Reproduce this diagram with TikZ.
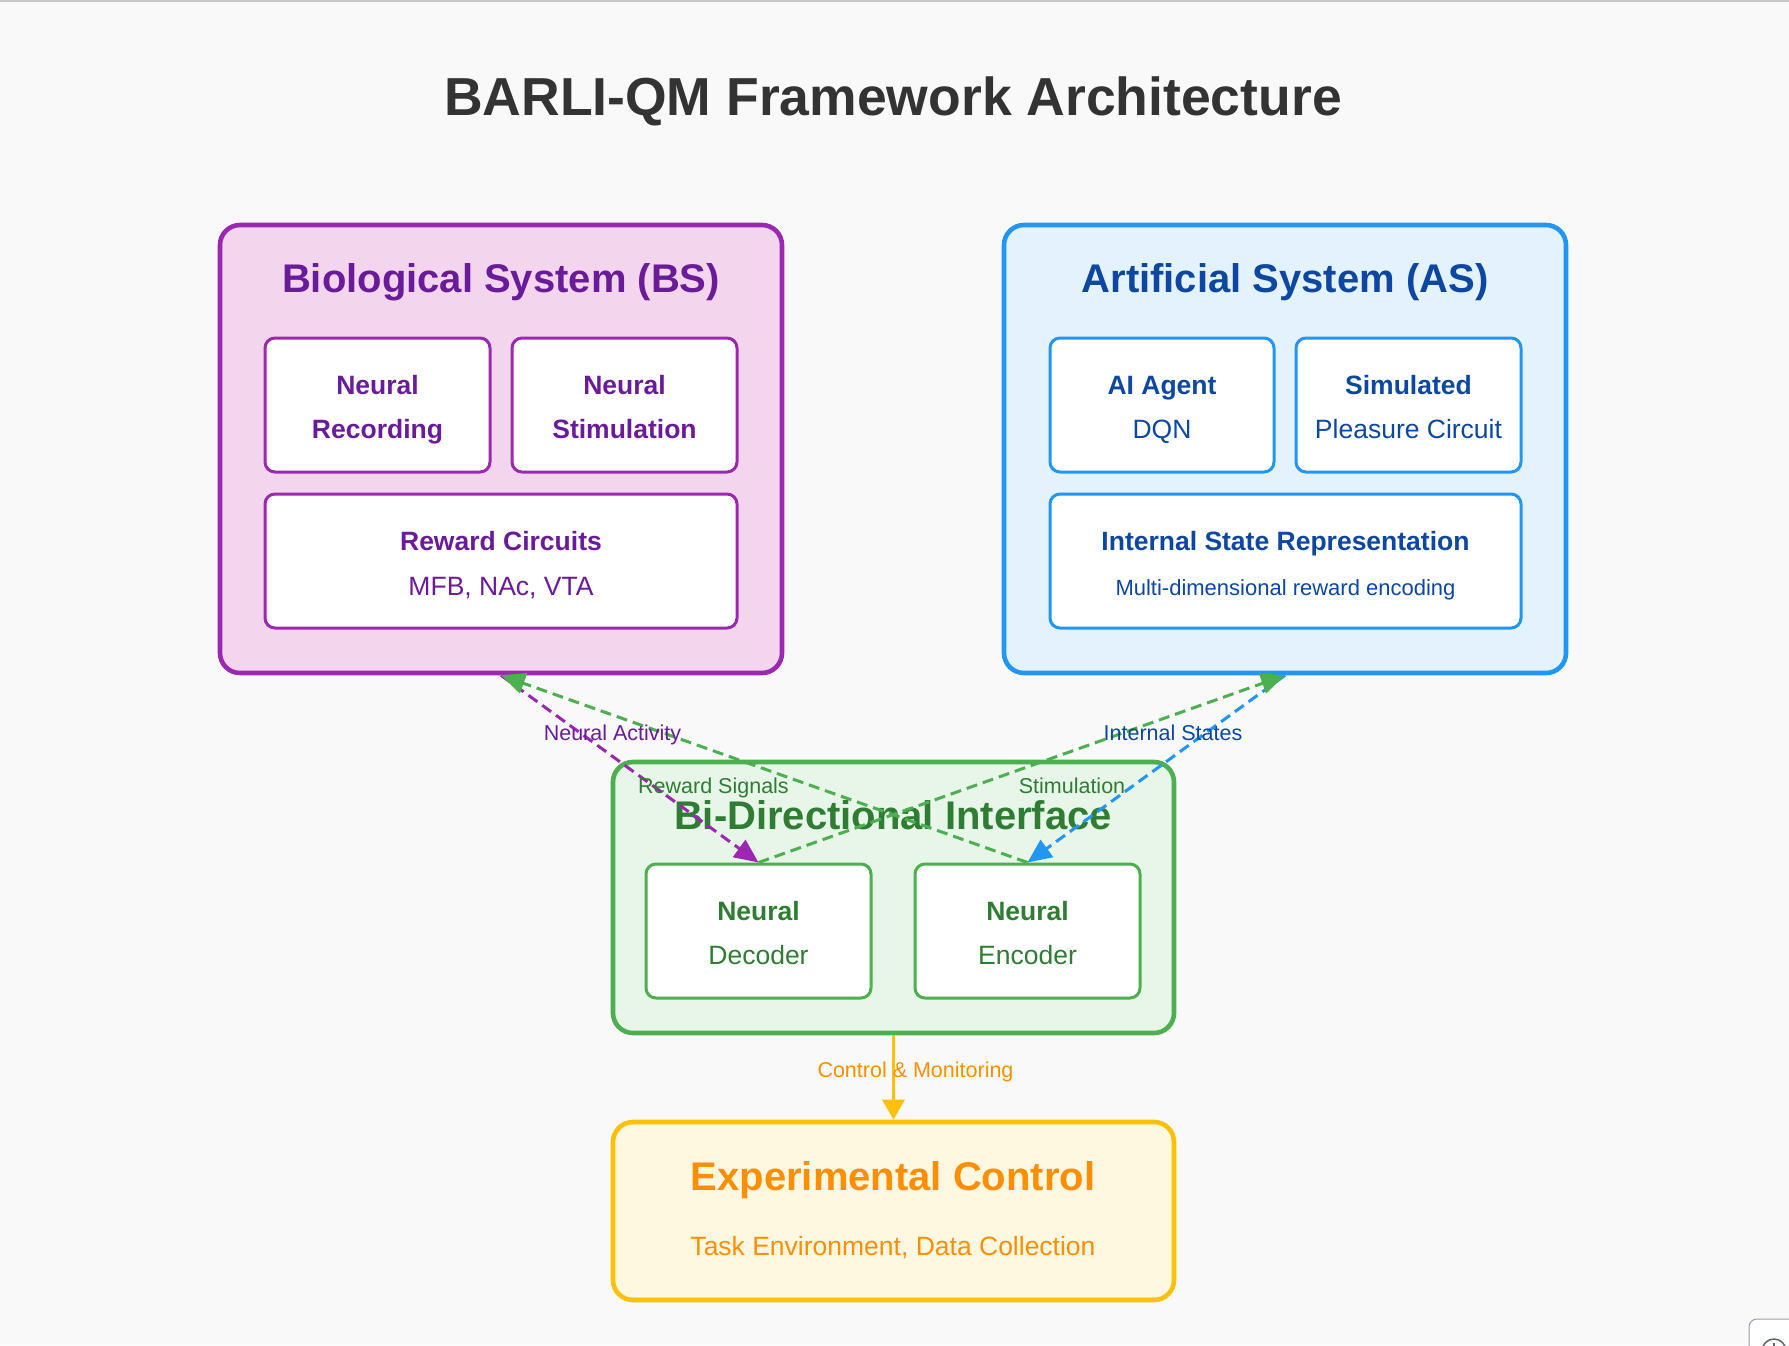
\documentclass[tikz,border=0pt]{standalone}
\usepackage{fontspec}
\setmainfont{Liberation Sans}
\usetikzlibrary{arrows.meta}
\definecolor{bg}{HTML}{F9F9F9}
\definecolor{topline}{HTML}{C8C8C8}
\definecolor{titlecol}{HTML}{333333}
\definecolor{bsfill}{HTML}{F3D6EE}
\definecolor{bsline}{HTML}{9C27B0}
\definecolor{bstext}{HTML}{6A1B9A}
\definecolor{asfill}{HTML}{E3F2FD}
\definecolor{asline}{HTML}{2196F3}
\definecolor{astext}{HTML}{0D47A1}
\definecolor{iffill}{HTML}{E8F5E9}
\definecolor{ifline}{HTML}{4CAF50}
\definecolor{iftext}{HTML}{2E7D32}
\definecolor{exfill}{HTML}{FFF8E1}
\definecolor{exline}{HTML}{FFC107}
\definecolor{extext}{HTML}{FF8F00}
\definecolor{widget}{HTML}{9AA0A6}
\definecolor{widgeticon}{HTML}{5F6368}
\begin{document}
\begin{tikzpicture}[x=1pt,y=-1pt,
  outerbox/.style={draw, rounded corners=20pt, line width=4.6pt, inner sep=0pt},
  innerbox/.style={draw, fill=white, rounded corners=10pt, line width=3pt, inner sep=0pt, minimum height=134pt},
  hdr/.style={anchor=base, font=\fontsize{40}{48}\selectfont\bfseries},
  bt/.style={anchor=base, font=\fontsize{26.5}{32}\selectfont\bfseries},
  rt/.style={anchor=base, font=\fontsize{26.5}{32}\selectfont},
  st/.style={anchor=base, font=\fontsize{22}{26}\selectfont},
  lbl/.style={anchor=base, font=\fontsize{21.5}{26}\selectfont},
  flow/.style={line width=3pt, dash pattern=on 11pt off 6pt, -{Triangle[length=24pt,width=21pt]}},
]
\useasboundingbox (0,0) rectangle (1789,1345);
\fill[bg] (0,0) rectangle (1789,1345);
\fill[topline] (0,0) rectangle (1789,2);

% title
\node[anchor=base, text=titlecol, font=\fontsize{53.5}{64}\selectfont\bfseries] (title) at (893,115) {BARLI-QM Framework Architecture};

% Biological system
\node[outerbox, draw=bsline, fill=bsfill, minimum width=562pt, minimum height=448pt] (bs) at (501,449) {};
\node[hdr, text=bstext] (bst) at (501,292) {Biological System (BS)};
\node[innerbox, draw=bsline, minimum width=225pt] (rec) at (377.5,405) {};
\node[innerbox, draw=bsline, minimum width=225pt] (stim) at (624.5,405) {};
\node[innerbox, draw=bsline, minimum width=472pt] (rew) at (501,561) {};
\node[bt, text=bstext] (rec1) at (377.5,394) {Neural};
\node[bt, text=bstext] (rec2) at (377.5,438) {Recording};
\node[bt, text=bstext] (stim1) at (624.5,394) {Neural};
\node[bt, text=bstext] (stim2) at (624.5,438) {Stimulation};
\node[bt, text=bstext] (rew1) at (501,550) {Reward Circuits};
\node[rt, text=bstext] (rew2) at (501,595) {MFB, NAc, VTA};

% Artificial system
\node[outerbox, draw=asline, fill=asfill, minimum width=562pt, minimum height=448pt] (as) at (1285,449) {};
\node[hdr, text=astext] (ast) at (1285,292) {Artificial System (AS)};
\node[innerbox, draw=asline, minimum width=224pt] (agent) at (1162,405) {};
\node[innerbox, draw=asline, minimum width=225pt] (sim) at (1408.5,405) {};
\node[innerbox, draw=asline, minimum width=471pt] (isr) at (1285.5,561) {};
\node[bt, text=astext] (agent1) at (1162,394) {AI Agent};
\node[rt, text=astext] (agent2) at (1162,438) {DQN};
\node[bt, text=astext] (sim1) at (1408.5,394) {Simulated};
\node[rt, text=astext] (sim2) at (1408.5,438) {Pleasure Circuit};
\node[bt, text=astext] (isr1) at (1285.5,550) {Internal State Representation};
\node[st, text=astext] (isr2) at (1285.5,595) {Multi-dimensional reward encoding};

% Interface
\node[outerbox, draw=ifline, fill=iffill, minimum width=561pt, minimum height=271pt] (ifc) at (893.5,897.5) {};
\node[hdr, text=iftext] (ifct) at (893,829) {Bi-Directional Interface};
\node[innerbox, draw=ifline, minimum width=225pt] (dec) at (758.5,931) {};
\node[innerbox, draw=ifline, minimum width=225pt] (enc) at (1027.5,931) {};
\node[bt, text=iftext] (dec1) at (758.5,920) {Neural};
\node[rt, text=iftext] (dec2) at (758.5,964) {Decoder};
\node[bt, text=iftext] (enc1) at (1027.5,920) {Neural};
\node[rt, text=iftext] (enc2) at (1027.5,964) {Encoder};

% Experimental control
\node[outerbox, draw=exline, fill=exfill, minimum width=561pt, minimum height=178pt] (exp) at (893.5,1211) {};
\node[hdr, text=extext] (expt) at (893,1190) {Experimental Control};
\node[rt, text=extext] (exps) at (893,1255) {Task Environment, Data Collection};

% connectors
\draw[flow, draw=bsline] (bs.south) -- (dec.north);
\draw[flow, draw=asline] (as.south) -- (enc.north);
\draw[flow, draw=ifline] (dec.north) -- (as.south);
\draw[flow, draw=ifline] (enc.north) -- (bs.south);
\draw[line width=3.2pt, draw=exline, -{Triangle[length=20pt,width=22pt]}] (ifc.south) -- (exp.north);

% connector labels
\node[lbl, text=bstext] (l1) at (612.5,740) {Neural Activity};
\node[lbl, text=astext] (l2) at (1173,740) {Internal States};
\node[lbl, text=iftext] (l3) at (713.5,793) {Reward Signals};
\node[lbl, text=iftext] (l4) at (1072,793) {Stimulation};
\node[lbl, text=extext] (l5) at (915.5,1077) {Control \& Monitoring};

% browser widget in the corner
\draw[widget, line width=1pt, fill=white, rounded corners=8pt] (1749,1319) rectangle (1810,1380);
\draw[widgeticon, line width=1.5pt] (1774,1351) circle (12pt);
\draw[widgeticon, line width=1.5pt] (1774,1343) -- (1774,1359);
\end{tikzpicture}
\end{document}
